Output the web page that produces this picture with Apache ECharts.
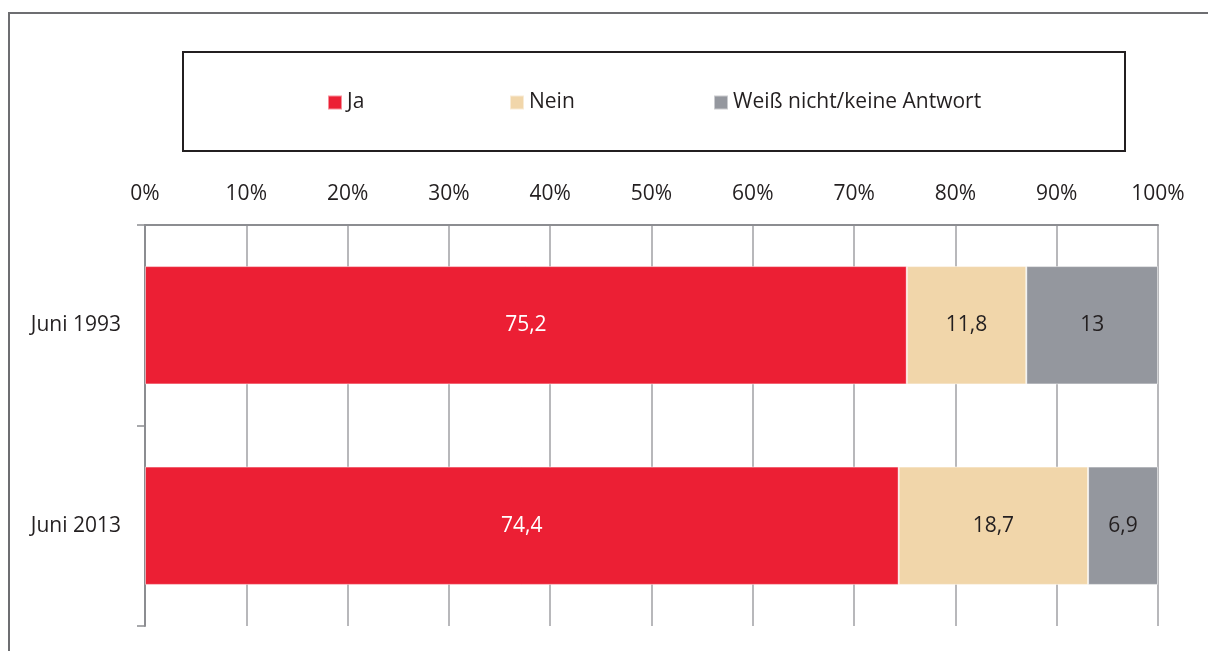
<!DOCTYPE html>
<html>
<head>
<meta charset="utf-8">
<script src="https://cdn.jsdelivr.net/npm/echarts@6/dist/echarts.min.js"></script>
<style>
html,body{margin:0;padding:0;background:#fff;}
#main{width:1208px;height:651px;}
</style>
</head>
<body>
<div id="main"></div>
<script>
var categories = ['Juni 1993', 'Juni 2013'];
var seriesNames = ['Ja', 'Nein', 'Weiß nicht/keine Antwort'];
var dataJa = [75.2, 74.4];
var dataNein = [11.8, 18.7];
var dataWeiss = [13, 6.9];
var colors = ['#ec1f34', '#f1d6aa', '#94979e'];

var FONT = 'Open Sans';
var myChart = echarts.init(document.getElementById('main'));

function fmt(p){ return String(p.value).replace('.', ','); }

function mkSeries(name, data, labelColor){
	return {
		name: name,
		type: 'bar',
		stack: 'total',
		barWidth: '59%',
		data: data,
		itemStyle: { borderColor: 'rgba(255,255,255,0.5)', borderWidth: 1 },
		label: {
			show: true,
			position: 'inside',
			formatter: fmt,
			color: labelColor,
			fontFamily: FONT,
			fontSize: 21
		}
	};
}

var option = {
	color: colors,
	animation: false,
	legend: [
		{ data: [seriesNames[0]], left: 327, top: 92 },
		{ data: [seriesNames[1]], left: 509, top: 92 },
		{ data: [seriesNames[2]], left: 713, top: 92 }
	].map(function(l){
		l.icon = 'rect';
		l.padding = 0;
		l.itemWidth = 14;
		l.itemHeight = 14;
		l.itemGap = 0;
		l.textStyle = { fontFamily: FONT, fontSize: 21, color: '#231f20' };
		return l;
	}),
	graphic: [
		{ type: 'rect', shape: { x: 9, y: 13, width: 1400, height: 900 }, style: { fill: 'none', stroke: '#6d6e71', lineWidth: 2 } },
		{ type: 'rect', shape: { x: 183, y: 52, width: 942, height: 99 }, style: { fill: 'none', stroke: '#231f20', lineWidth: 2 } }
	],
	grid: { left: 145, right: 50, top: 225, bottom: 25 },
	xAxis: {
		type: 'value',
		position: 'top',
		min: 0,
		max: 100,
		interval: 10,
		axisLine: { show: true, lineStyle: { color: '#8c8d91', width: 2 } },
		axisTick: { show: false },
		splitLine: { show: true, lineStyle: { color: '#a0a1a5', width: 1.5 } },
		axisLabel: { formatter: '{value}%', fontFamily: FONT, fontSize: 21, color: '#231f20', margin: 20 }
	},
	yAxis: {
		type: 'category',
		inverse: true,
		data: categories,
		axisLine: { show: true, lineStyle: { color: '#8c8d91', width: 2 } },
		axisTick: { show: true, length: 8, lineStyle: { color: '#8c8d91', width: 1.5 } },
		axisLabel: { fontFamily: FONT, fontSize: 21, color: '#231f20', margin: 24 }
	},
	series: [
		mkSeries(seriesNames[0], dataJa, '#ffffff'),
		mkSeries(seriesNames[1], dataNein, '#231f20'),
		mkSeries(seriesNames[2], dataWeiss, '#231f20')
	]
};

myChart.setOption(option);
window.addEventListener('resize', function(){ myChart.resize(); });
</script>
</body>
</html>
